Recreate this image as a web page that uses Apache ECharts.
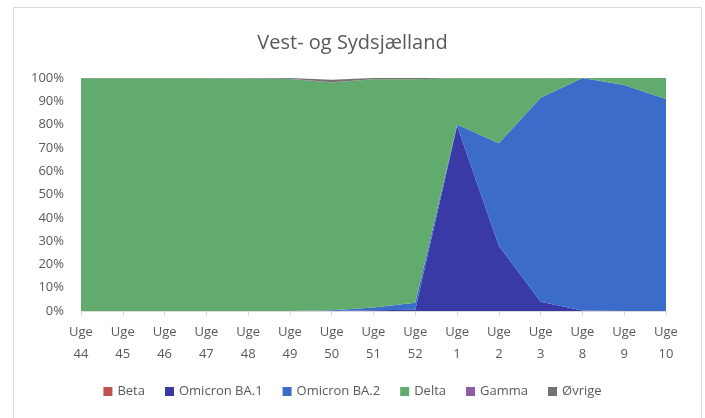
<!DOCTYPE html>
<html>
<head>
<meta charset="utf-8">
<script src="https://cdn.jsdelivr.net/npm/echarts@6/dist/echarts.min.js"></script>
<style>
	html, body { margin: 0; padding: 0; background: #fff; }
	#chart { width: 705px; height: 418px; }
</style>
</head>
<body>
<div id="chart"></div>
<script>
var categories = ['Uge\n44', 'Uge\n45', 'Uge\n46', 'Uge\n47', 'Uge\n48', 'Uge\n49', 'Uge\n50', 'Uge\n51', 'Uge\n52',
	'Uge\n1', 'Uge\n2', 'Uge\n3', 'Uge\n8', 'Uge\n9', 'Uge\n10'];
// andele i procent
var beta = [0, 0, 0, 0, 0, 0, 0, 0, 0, 0, 0, 0, 0, 0, 0];
var omicronBA1 = [0, 0, 0, 0, 0, 0, 0, 0.3, 0.5, 79.5, 28, 4, 0.2, 0, 0];
var omicronBA2 = [0, 0, 0, 0, 0, 0, 0.3, 1.2, 3, 0.5, 44, 87.5, 99.8, 97, 91];
var delta = [99.9, 99.9, 99.9, 99.9, 99.8, 99.6, 97.8, 98, 96, 19.9, 27.9, 8.4, 0, 3, 9];
var gamma = [0, 0, 0, 0, 0, 0.1, 0.1, 0, 0, 0, 0, 0, 0, 0, 0];
var ovrige = [0.1, 0.1, 0.1, 0.1, 0.2, 0.3, 1, 0.5, 0.5, 0.1, 0.1, 0.1, 0, 0, 0];
var yTicks = ['0%', '10%', '20%', '30%', '40%', '50%', '60%', '70%', '80%', '90%', '100%'];

var names = ['Beta', 'Omicron BA.1', 'Omicron BA.2', 'Delta', 'Gamma', 'Øvrige'];
var colors = ['#c0504d', '#3a3aa6', '#3b6cc9', '#62ab6e', '#8e5ea2', '#767171'];
var values = [beta, omicronBA1, omicronBA2, delta, gamma, ovrige];

var font = '"Open Sans", "Liberation Sans", sans-serif';

var series = [];
for (var i = 0; i < names.length; i++) {
	series.push({
		name: names[i],
		type: 'line',
		stack: 'total',
		symbol: 'none',
		lineStyle: { width: 0 },
		areaStyle: { color: colors[i], opacity: 1 },
		itemStyle: { color: colors[i] },
		data: values[i]
	});
}

var chart = echarts.init(document.getElementById('chart'));
chart.setOption({
	animation: false,
	color: colors,
	title: {
		text: 'Vest- og Sydsjælland',
		left: 'center',
		top: 28,
		textStyle: { fontFamily: font, fontSize: 20, fontWeight: 'normal', color: '#595959' }
	},
	graphic: [{
		type: 'rect',
		shape: { x: 13.5, y: 7.5, width: 688, height: 420 },
		style: { fill: 'none', stroke: '#d9d9d9', lineWidth: 1 }
	}],
	legend: {
		bottom: 15,
		itemWidth: 9,
		itemHeight: 9,
		itemGap: 20,
		icon: 'rect',
		textStyle: { fontFamily: font, fontSize: 13, color: '#595959' },
		data: names
	},
	grid: { left: 81, right: 39, top: 78, bottom: 107 },
	xAxis: {
		type: 'category',
		boundaryGap: false,
		data: categories,
		axisLine: { lineStyle: { color: '#d9d9d9' } },
		axisTick: { show: true, length: 5, lineStyle: { color: '#d9d9d9' } },
		axisLabel: { interval: 0, fontFamily: font, fontSize: 13, color: '#595959', lineHeight: 22, margin: 10 }
	},
	yAxis: {
		type: 'value',
		min: 0,
		max: 100,
		interval: 10,
		splitLine: { show: false },
		axisLabel: {
			fontFamily: font, fontSize: 13, color: '#595959', margin: 17,
			formatter: function(v) { return yTicks[Math.round(v / 10)]; }
		}
	},
	series: series
});
</script>
</body>
</html>
